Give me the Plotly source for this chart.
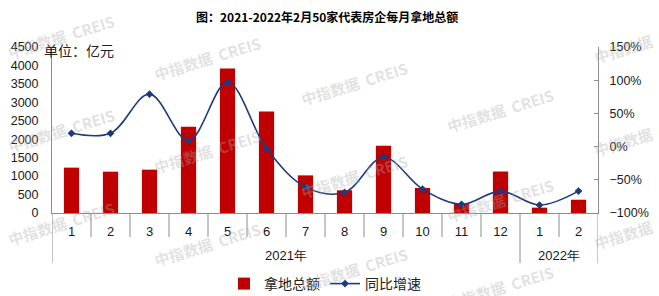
import plotly.graph_objects as go

# ---------------- data ----------------
months = ["1", "2", "3", "4", "5", "6", "7", "8", "9", "10", "11", "12", "1", "2"]
years = ["2021年"] * 12 + ["2022年"] * 2
land_amount = [1230, 1120, 1175, 2340, 3920, 2750, 1020, 615, 1820, 680, 245, 1125, 145, 360]
yoy_growth = [20, 20, 79, 9, 97, -3, -61, -69, -16, -64, -87, -67, -88, -67]
bar_name = "拿地总额"
line_name = "同比增速"
title_text = "图：2021-2022年2月50家代表房企每月拿地总额"
unit_text = "单位：亿元"
watermark = "中指数据  CREIS"

W, H = 659, 296
ML, MR, MT, MB = 52, 61, 47, 83
PW, PH = W - ML - MR, H - MT - MB
AXIS_Y = H - MB

def py(pix_y):
    return (AXIS_Y - pix_y) / PH

def px(pix_x):
    return (pix_x - ML) / PW

x_idx = list(range(len(months)))
AX_COLOR = "#8c8c8c"
CJK = "Noto Sans CJK SC"
LAT = "Liberation Sans"

fig = go.Figure()
fig.add_trace(go.Bar(
    x=x_idx, y=land_amount, name=bar_name, width=0.39,
    marker=dict(color="#C00000", line=dict(width=0)), yaxis="y",
))
fig.add_trace(go.Scatter(
    x=x_idx, y=yoy_growth, name=line_name, yaxis="y2", mode="lines+markers",
    line=dict(color="#1F3A7C", width=1.6, shape="spline", smoothing=1.0),
    marker=dict(symbol="diamond", size=6, color="#1F3A7C"),
))

shapes = []
# month boundary dividers
for i in range(len(months) + 1):
    xb = i - 0.5
    is_group = (i == 0) or (i == len(months)) or (years[i] != years[i - 1])
    shapes.append(dict(type="line", xref="x", yref="paper", x0=xb, x1=xb,
                       y0=0, y1=py(263 if is_group else 237),
                       line=dict(color=AX_COLOR, width=1)))

annotations = []
# year group labels
groups = []
for i, yv in enumerate(years):
    if not groups or groups[-1][0] != yv:
        groups.append([yv, i, i])
    else:
        groups[-1][2] = i
for yv, a, b in groups:
    annotations.append(dict(text=yv, xref="x", yref="paper", x=(a + b) / 2, y=py(255),
                            showarrow=False, font=dict(family=LAT, size=13, color="#1a1a1a"),
                            yanchor="middle"))
annotations.append(dict(text="<b>" + title_text + "</b>", xref="paper", yref="paper",
                        x=px(327), y=py(17), showarrow=False,
                        font=dict(family=CJK, size=12, color="#000"),
                        xanchor="center", yanchor="middle"))
annotations.append(dict(text=unit_text, xref="paper", yref="paper", x=px(42), y=py(50),
                        showarrow=False, font=dict(family=CJK, size=14, color="#222"),
                        xanchor="left", yanchor="middle"))
# watermarks
wm_pos = [(61, 37), (61, 130), (61, 223),
          (207, 58), (207, 151), (207, 244),
          (354, 83), (354, 176), (354, 269),
          (500, 110), (500, 200), (500, 287),
          (647, 41), (647, 134), (647, 227)]
for (wx, wy) in wm_pos:
    annotations.append(dict(text="<b>" + watermark + "</b>", xref="paper", yref="paper",
                            x=px(wx), y=py(wy), showarrow=False, textangle=-17,
                            font=dict(family=CJK, size=15, color="rgba(170,170,170,0.35)"),
                            xanchor="center", yanchor="middle"))

fig.update_layout(
    width=W, height=H, margin=dict(l=ML, r=MR, t=MT, b=MB, autoexpand=False),
    paper_bgcolor="white", plot_bgcolor="white",
    showlegend=True,
    legend=dict(orientation="h", x=0.5, xanchor="center", y=py(284), yanchor="middle",
                font=dict(family=CJK, size=14, color="#222"), itemwidth=30,
                bgcolor="rgba(0,0,0,0)"),
    xaxis=dict(range=[-0.5, len(months) - 0.5], tickmode="array", tickvals=x_idx,
               ticktext=months, showgrid=False, zeroline=False, showline=True,
               linecolor=AX_COLOR, linewidth=1, ticks="", ticklabelstandoff=6,
               tickfont=dict(family=LAT, size=13, color="#1a1a1a")),
    yaxis=dict(range=[0, 4500], dtick=500, showgrid=False, zeroline=False,
               showline=True, linecolor=AX_COLOR, linewidth=1, ticks="",
               ticklabelstandoff=10, tickfont=dict(family=LAT, size=12.5, color="#1a1a1a")),
    yaxis2=dict(range=[-100, 150], dtick=50, overlaying="y", side="right",
                showgrid=False, zeroline=False, showline=True, linecolor=AX_COLOR,
                linewidth=1, ticks="inside", ticklen=4, tickcolor=AX_COLOR,
                ticksuffix="%", ticklabelstandoff=8,
                tickfont=dict(family=LAT, size=12.5, color="#1a1a1a")),
    shapes=shapes, annotations=annotations, bargap=0.6,
)

fig.write_html("out.html")
